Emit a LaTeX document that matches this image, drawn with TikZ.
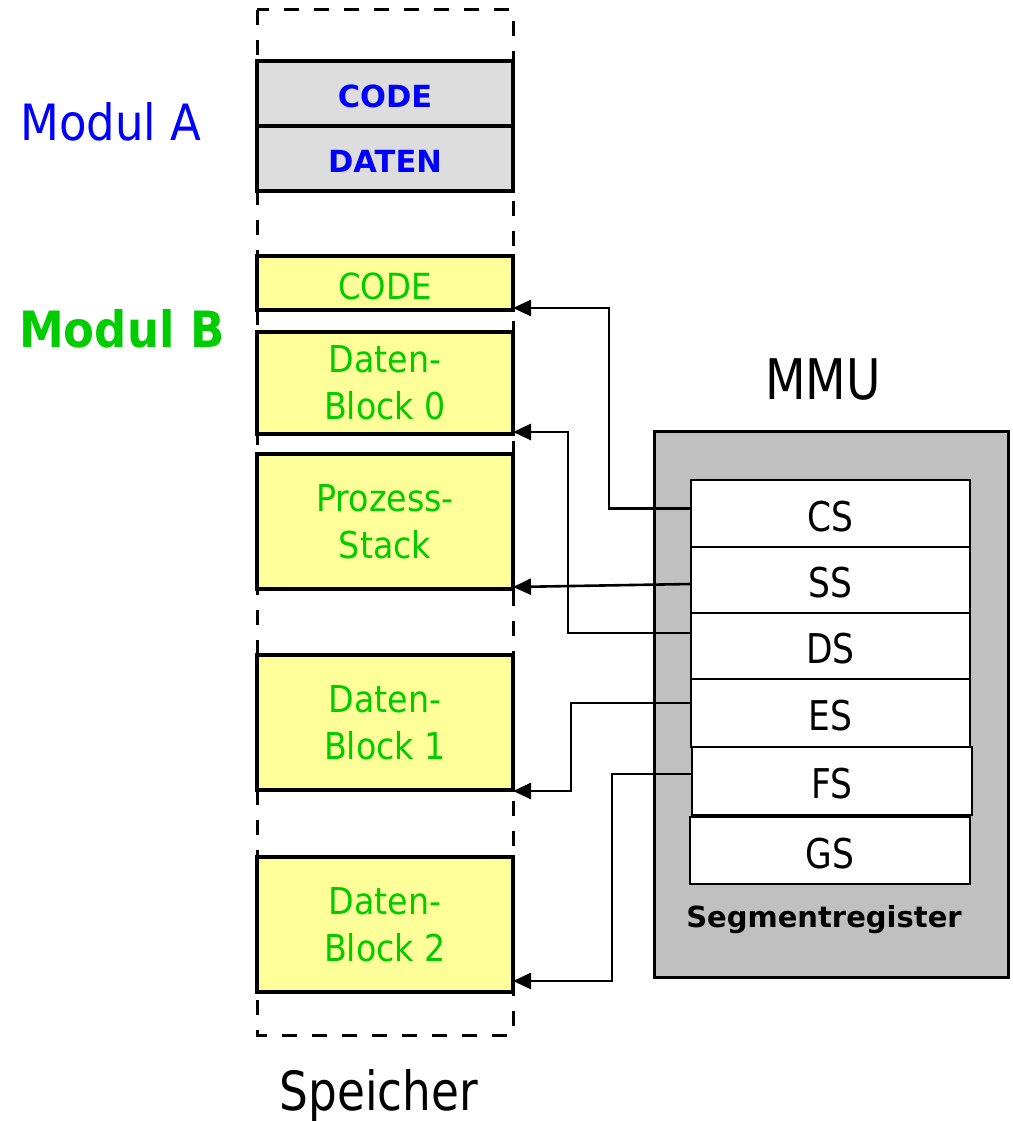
\documentclass[tikz,border=0pt]{standalone}
\usepackage{fontspec}
\setmainfont{DejaVu Sans}[FakeStretch=0.9]
\newfontfamily\widefont{DejaVu Sans}
\newfontfamily\condfont{DejaVu Sans}[FakeStretch=0.84]
\usetikzlibrary{arrows.meta}

\definecolor{memyellow}{HTML}{FFFF99}
\definecolor{modgreen}{HTML}{00CC00}
\definecolor{modblue}{HTML}{0000FF}
\definecolor{agray}{HTML}{DDDDDD}
\definecolor{mmugray}{HTML}{C0C0C0}

\begin{document}
\begin{tikzpicture}[x=1pt,y=-1pt,
  % a tall invisible strut on the first line sets the text a little lower
  lowerby/.style={execute at begin node={\rule{0pt}{#1}}},
  seg/.style={draw, line width=3.2pt, minimum width=256pt, anchor=north west,
    outer sep=0pt, inner sep=0pt, align=center},
  segA/.style={seg, fill=agray, text=modblue, minimum height=65pt, lowerby=28pt,
    font=\widefont\bfseries\fontsize{30.5}{36}\selectfont},
  segB/.style={seg, fill=memyellow, text=modgreen, lowerby=33pt,
    font=\fontsize{37}{47}\selectfont},
  reg/.style={draw, line width=2.6pt, fill=white, minimum width=279pt,
    anchor=north west, outer sep=0pt, inner sep=0pt, lowerby=36pt,
    font=\condfont\fontsize{41}{41}\selectfont},
  arr/.style={line width=2.6pt, -{Triangle[length=18pt,width=16pt]}}
]
\useasboundingbox[fill=white] (0,0) rectangle (1012,1121);

% memory column
\draw[line width=3pt, dash pattern=on 15pt off 15pt] (257,10) rectangle (513,1035);

% module A
\node[segA] (codeA) at (257,61) {CODE};
\node[segA] (datenA) at (257,126) {DATEN};

% module B
\node[segB, minimum height=54pt, lowerby=32pt, font=\fontsize{36}{47}\selectfont] (codeB) at (257,256) {CODE};
\node[segB, minimum height=102pt] (block0) at (257,332) {Daten-\\Block 0};
\node[segB, minimum height=135pt] (stack) at (257,454) {Prozess-\\Stack};
\node[segB, minimum height=135pt] (block1) at (257,655) {Daten-\\Block 1};
\node[segB, minimum height=135pt] (block2) at (257,857) {Daten-\\Block 2};

% module labels
\node[anchor=base west, inner sep=0pt, text=modblue, font=\fontsize{50}{50}\selectfont]
  (modA) at (20,140) {Modul A};
\node[anchor=base west, inner sep=0pt, text=modgreen, font=\bfseries\fontsize{50}{50}\selectfont]
  (modB) at (19,347) {Modul B};
\node[anchor=base, inner sep=0pt, font=\condfont\fontsize{54}{54}\selectfont]
  (mem) at (379,1110) {Speicher};

% MMU
\node[anchor=base, inner sep=0pt, font=\condfont\fontsize{56}{56}\selectfont]
  (mmulabel) at (823,399) {MMU};
\node[draw, line width=3pt, fill=mmugray, anchor=north west, outer sep=0pt,
  minimum width=354pt, minimum height=546pt] (mmu) at (654,431) {};

\node[reg, minimum height=67pt] (cs) at (691,480) {CS};
\node[reg, minimum height=66pt] (ss) at (691,547) {SS};
\node[reg, minimum height=66pt] (ds) at (691,613) {DS};
\node[reg, minimum height=68pt] (es) at (691,679) {ES};
\node[reg, minimum height=68pt, minimum width=280pt] (fs) at (692,747) {FS};
\node[reg, minimum height=67pt, minimum width=280pt] (gs) at (690,817) {GS};

\node[anchor=base, inner sep=0pt, font=\widefont\bfseries\fontsize{29}{29}\selectfont]
  (seglabel) at (824,927) {Segmentregister};

% segment register pointers
\coordinate (tCS) at ([yshift=2pt]codeB.south east);
\coordinate (tDS) at ([yshift=2pt]block0.south east);
\coordinate (tSS) at ([yshift=2pt]stack.south east);
\coordinate (tES) at ([yshift=-1pt]block1.south east);
\coordinate (tFS) at ([yshift=11pt]block2.south east);
\coordinate (kCS) at (609,0);
\coordinate (kDS) at (568,0);
\coordinate (kES) at (571,0);
\coordinate (kFS) at (612,0);

\draw[arr] ([yshift=5pt]cs.west) -| (kCS |- tCS) -- (tCS);
\draw[arr] ([yshift=-4pt]ss.west) -- (tSS);
\draw[arr] ([yshift=13pt]ds.west) -| (kDS |- tDS) -- (tDS);
\draw[arr] ([yshift=10pt]es.west) -| (kES |- tES) -- (tES);
\draw[arr] ([yshift=7pt]fs.west) -| (kFS |- tFS) -- (tFS);
\end{tikzpicture}
\end{document}
